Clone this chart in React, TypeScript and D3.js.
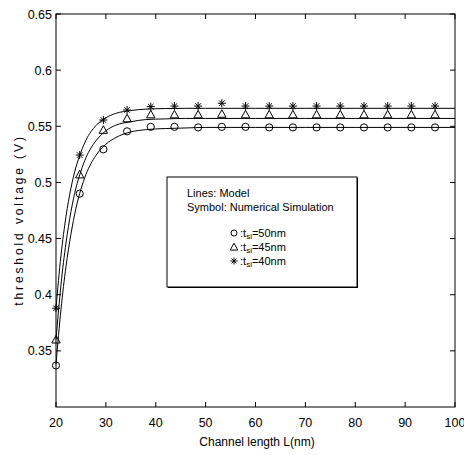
import * as d3 from 'd3';

// simulation points (symbols)
const simL = [20, 24.75, 29.5, 34.25, 39, 43.75, 48.5, 53.25, 58, 62.75, 67.5, 72.25, 77, 81.75, 86.5, 91.25, 96];
const sim50 = [0.337, 0.49, 0.5295, 0.5455, 0.5495, 0.5495, 0.549, 0.5495, 0.5495, 0.549, 0.549, 0.549, 0.549, 0.549, 0.549, 0.549, 0.549];
const sim45 = [0.36, 0.507, 0.5467, 0.557, 0.5605, 0.5605, 0.5605, 0.561, 0.5605, 0.5605, 0.5605, 0.5605, 0.5605, 0.5605, 0.5605, 0.5605, 0.5605];
const sim40 = [0.388, 0.5244, 0.5556, 0.5645, 0.5675, 0.568, 0.568, 0.5705, 0.568, 0.568, 0.568, 0.568, 0.568, 0.568, 0.568, 0.568, 0.568];

// model curves (lines)
const modelL = [20, 21, 22, 23, 24, 25, 26, 28, 30, 32, 35, 38, 42, 46, 50, 60, 70, 80, 90, 100];
const model50 = [0.338, 0.387, 0.425, 0.454, 0.477, 0.494, 0.507, 0.524, 0.534, 0.54, 0.545, 0.547, 0.548, 0.5485, 0.549, 0.549, 0.549, 0.549, 0.549, 0.549];
const model45 = [0.36, 0.409, 0.446, 0.474, 0.495, 0.51, 0.522, 0.537, 0.546, 0.551, 0.554, 0.556, 0.5566, 0.557, 0.557, 0.557, 0.557, 0.557, 0.557, 0.557];
const model40 = [0.388, 0.435, 0.4695, 0.495, 0.5136, 0.527, 0.5376, 0.5506, 0.5576, 0.5615, 0.564, 0.5653, 0.5658, 0.566, 0.566, 0.566, 0.566, 0.566, 0.566, 0.566];

const xTicks = [20, 30, 40, 50, 60, 70, 80, 90, 100];
const yTicks = [0.35, 0.4, 0.45, 0.5, 0.55, 0.6, 0.65];

const W = 464, H = 455;
const left = 56, right = 455, top = 14, bottom = 407;
const font = 'Liberation Sans, Arial, sans-serif';

const x = d3.scaleLinear().domain([20, 100]).range([left, right]);
const y = d3.scaleLinear().domain([0.3, 0.65]).range([bottom, top]);

const line = d3.line<number>().x((_, i) => 0).curve(d3.curveMonotoneX);

function path(ls: number[], vs: number[]) {
  return d3.line<number>()
    .x((_, i) => x(ls[i]))
    .y(v => y(v))
    .curve(d3.curveMonotoneX)(vs) || '';
}

const Circle = ({ cx, cy, r = 3.6 }: any) => <circle cx={cx} cy={cy} r={r} fill="none" stroke="#000" strokeWidth={1} />;
const Tri = ({ cx, cy, s = 4.2 }: any) => (
  <path d={`M${cx},${cy - s}L${cx + s},${cy + s * 0.8}L${cx - s},${cy + s * 0.8}Z`} fill="none" stroke="#000" strokeWidth={1} />
);
const Star = ({ cx, cy, s = 4 }: any) => {
  const d = s * 0.7;
  return (
    <path d={`M${cx - s},${cy}H${cx + s}M${cx},${cy - s}V${cy + s}M${cx - d},${cy - d}L${cx + d},${cy + d}M${cx - d},${cy + d}L${cx + d},${cy - d}`}
      stroke="#000" strokeWidth={1} fill="none" />
  );
};

const Sub = ({ n }: { n: string }) => (
  <>
    :t<tspan fontSize={8} dy={2}>si</tspan><tspan dy={-2}>={n}nm</tspan>
  </>
);

export default function App() {
  void line;
  return (
    <svg width={W} height={H} style={{ position: 'absolute', left: 0, top: 0, background: '#fff' }} fontFamily={font}>
      <rect x={0} y={0} width={W} height={H} fill="#fff" />
      {/* model lines */}
      {[model50, model45, model40].map((m, k) => (
        <path key={k} d={path(modelL, m)} fill="none" stroke="#000" strokeWidth={1} />
      ))}
      {/* symbols */}
      {simL.map((l, i) => <Circle key={'c' + i} cx={x(l)} cy={y(sim50[i])} />)}
      {simL.map((l, i) => <Tri key={'t' + i} cx={x(l)} cy={y(sim45[i])} />)}
      {simL.map((l, i) => <Star key={'s' + i} cx={x(l)} cy={y(sim40[i])} />)}
      {/* frame */}
      <rect x={left} y={top} width={right - left} height={bottom - top} fill="none" stroke="#000" strokeWidth={1} />
      {xTicks.map(t => (
        <g key={'x' + t}>
          <line x1={x(t)} x2={x(t)} y1={bottom} y2={bottom - 5} stroke="#000" />
          <line x1={x(t)} x2={x(t)} y1={top} y2={top + 5} stroke="#000" />
          <text x={x(t)} y={bottom + 20} fontSize={12.5} textAnchor="middle">{t}</text>
        </g>
      ))}
      {yTicks.map(t => (
        <g key={'y' + t}>
          <line x1={left} x2={left + 5} y1={y(t)} y2={y(t)} stroke="#000" />
          <line x1={right} x2={right - 5} y1={y(t)} y2={y(t)} stroke="#000" />
          <text x={left - 4} y={y(t) + 4.5} fontSize={12.5} textAnchor="end">{t}</text>
        </g>
      ))}
      <text x={257} y={446} fontSize={12} textAnchor="middle">Channel length L(nm)</text>
      <text transform={`translate(23,220) rotate(-90)`} fontSize={12} letterSpacing={2.9} textAnchor="middle">threshold voltage (V)</text>
      {/* legend */}
      <rect x={168} y={178} width={190} height={110} fill="#000" />
      <rect x={167} y={177} width={190} height={110} fill="#fff" stroke="#000" strokeWidth={1} />
      <text x={187} y={197} fontSize={11}>Lines: Model</text>
      <text x={187} y={211} fontSize={11}>Symbol: Numerical Simulation</text>
      <Circle cx={234} cy={233} r={3} />
      <text x={240} y={237} fontSize={11}><Sub n="50" /></text>
      <Tri cx={234} cy={247} s={3.8} />
      <text x={240} y={251} fontSize={11}><Sub n="45" /></text>
      <Star cx={234} cy={261} s={3.5} />
      <text x={240} y={265} fontSize={11}><Sub n="40" /></text>
    </svg>
  );
}
